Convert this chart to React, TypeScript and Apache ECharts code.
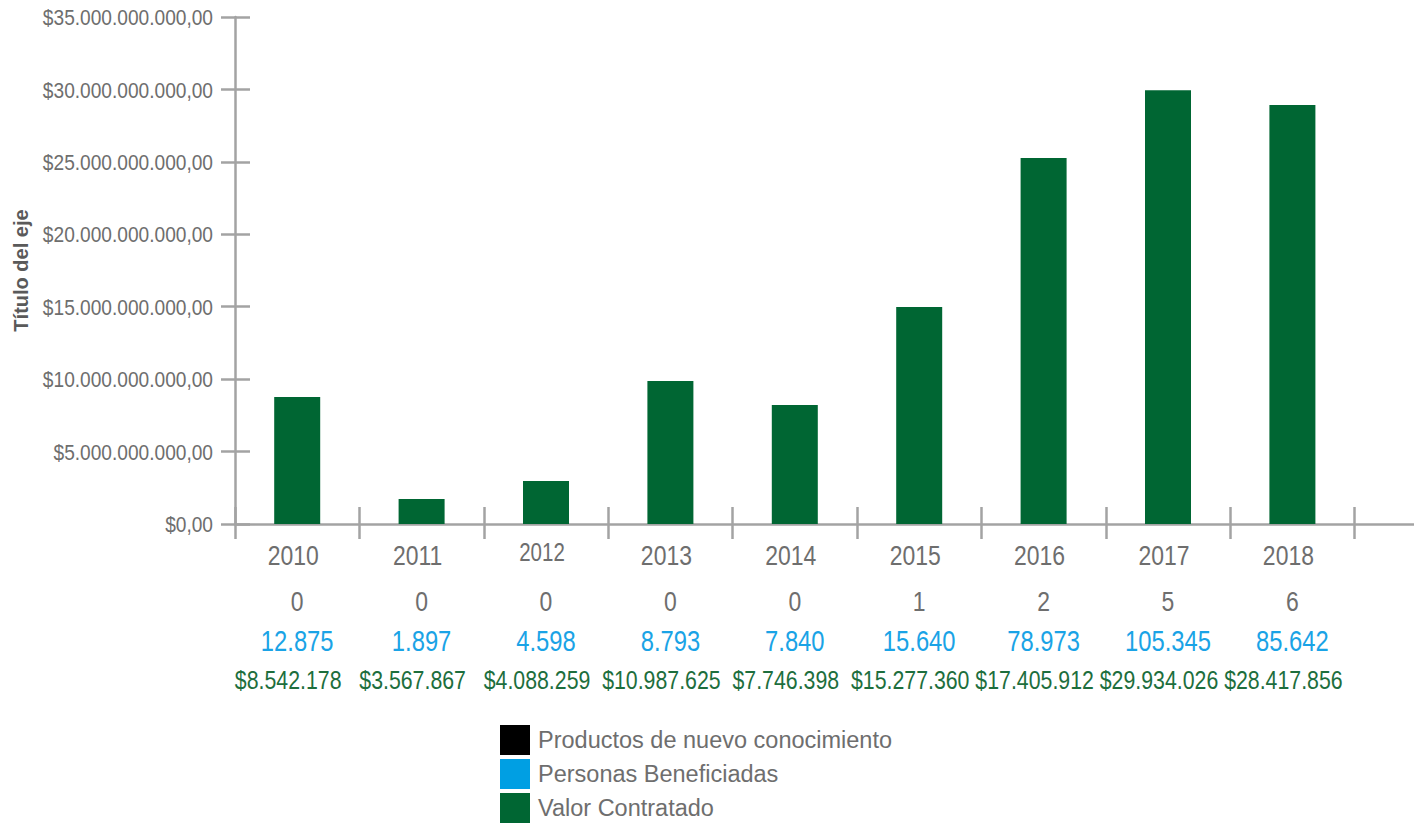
import React, { useEffect, useRef } from "react";
import * as echarts from "echarts";

const years = ["2010", "2011", "2012", "2013", "2014", "2015", "2016", "2017", "2018"];
const barValues = [8.77e9, 1.73e9, 2.97e9, 9.87e9, 8.21e9, 14.98e9, 25.26e9, 29.95e9, 28.92e9];
const productos = [0, 0, 0, 0, 0, 1, 2, 5, 6];
const personas = [12875, 1897, 4598, 8793, 7840, 15640, 78973, 105345, 85642];
const personasLabels = ["12.875", "1.897", "4.598", "8.793", "7.840", "15.640", "78.973", "105.345", "85.642"];
const valorLabels = ["$8.542.178", "$3.567.867", "$4.088.259", "$10.987.625", "$7.746.398", "$15.277.360", "$17.405.912", "$29.934.026", "$28.417.856"];
const yTicks = [0, 5e9, 10e9, 15e9, 20e9, 25e9, 30e9, 35e9];
const seriesNames = ["Productos de nuevo conocimiento", "Personas Beneficiadas", "Valor Contratado"];

const FONT = "'Liberation Sans', Arial, sans-serif";
const GRAY = "#6e6e6e";
const AXIS = "#a3a3a3";
const GREEN = "#006633";
const BLUE = "#009fe3";
const BLUE_TEXT = "#1aa3e6";
const GREEN_TEXT = "#1d6e3d";
const SQUEEZE = 0.82;

function fmtMoney(v: number): string {
  const s = Math.round(v).toString().replace(/\B(?=(\d{3})+(?!\d))/g, ".");
  return "$" + s + ",00";
}

function txt(text: string, x: number, y: number, size: number, color: string, align: string, sx: number) {
  return {
    type: "text",
    x,
    y,
    scaleX: sx,
    silent: true,
    style: {
      text,
      x: 0,
      y: 0,
      fill: color,
      fontSize: size,
      fontFamily: FONT,
      align,
      verticalAlign: "middle",
      textAlign: align,
      textVerticalAlign: "middle",
    },
  };
}

export default function App() {
  const ref = useRef<HTMLDivElement>(null);
  useEffect(() => {
    if (!ref.current) return;
    const chart = echarts.init(ref.current, null, { renderer: "svg" });
    const cats = [...years, ""];
    chart.setOption({
      animation: false,
      textStyle: { fontFamily: FONT },
      grid: {
        left: 235,
        top: 17,
        bottom: 823 - 524,
        right: -65,
        containLabel: false,
        outerBoundsMode: "none",
      },
      legend: {
        data: seriesNames,
        orient: "vertical",
        left: 500,
        top: 725,
        itemWidth: 30,
        itemHeight: 30,
        itemGap: 4,
        icon: "rect",
        padding: 0,
        textStyle: { fontFamily: FONT, fontSize: 23.5, color: GRAY, lineHeight: 30, padding: [0, 0, 0, 3] },
      },
      xAxis: [
        {
          type: "category",
          data: cats,
          position: "bottom",
          boundaryGap: true,
          axisLine: { show: true, lineStyle: { color: AXIS, width: 2.5 } },
          axisTick: { show: true, inside: false, length: 15, lineStyle: { color: AXIS, width: 2.5 } },
          axisLabel: { show: false },
          splitLine: { show: false },
        },
        {
          type: "category",
          data: cats,
          position: "bottom",
          boundaryGap: true,
          axisLine: { show: false },
          axisTick: { show: true, inside: true, length: 17, lineStyle: { color: AXIS, width: 2.5 } },
          axisLabel: { show: false },
          splitLine: { show: false },
        },
      ],
      yAxis: [
        {
          type: "value",
          min: 0,
          max: 35e9,
          interval: 5e9,
          position: "left",
          name: "Título del eje",
          nameLocation: "middle",
          nameGap: 204,
          nameRotate: 90,
          nameTextStyle: { fontFamily: FONT, fontSize: 20, fontWeight: "bold", color: "#5a5a5a" },
          axisLine: { show: true, lineStyle: { color: AXIS, width: 2.5 } },
          axisTick: { show: true, inside: false, length: 14, lineStyle: { color: AXIS, width: 2.5 } },
          axisLabel: { show: false },
          splitLine: { show: false },
        },
        {
          type: "value",
          min: 0,
          max: 35e9,
          interval: 5e9,
          position: "left",
          offset: 0,
          axisLine: { show: false },
          axisTick: { show: true, inside: true, length: 15, lineStyle: { color: AXIS, width: 2.5 } },
          axisLabel: { show: false },
          splitLine: { show: false },
        },
      ],
      series: [
        {
          name: seriesNames[0],
          type: "bar",
          data: productos,
          barWidth: 46,
          barGap: "-100%",
          itemStyle: { color: "#000000" },
        },
        {
          name: seriesNames[1],
          type: "bar",
          data: personas,
          barWidth: 46,
          barGap: "-100%",
          itemStyle: { color: BLUE },
        },
        {
          name: seriesNames[2],
          type: "bar",
          data: barValues,
          barWidth: 46,
          barGap: "-100%",
          itemStyle: { color: GREEN },
        },
        {
          name: "table",
          type: "custom",
          silent: true,
          clip: false,
          data: years.map((_, i) => [i, 0]),
          encode: { x: 0, y: 1 },
          renderItem: (params: any, api: any) => {
            const i = api.value(0);
            const p = api.coord([i, 0]);
            const cx = p[0];
            const z = p[1];
            const isSmall = years[i] === "2012";
            return {
              type: "group",
              children: [
                txt(years[i], cx - 4, z + (isSmall ? 28 : 31), isSmall ? 25 : 28, GRAY, "center", SQUEEZE),
                txt(String(productos[i]), cx, z + 77, 28, GRAY, "center", SQUEEZE),
                txt(personasLabels[i], cx, z + 117, 29, BLUE_TEXT, "center", SQUEEZE),
                txt(valorLabels[i], cx - 9, z + 156, 26, GREEN_TEXT, "center", SQUEEZE),
              ],
            };
          },
        },
        {
          name: "ylabels",
          type: "custom",
          silent: true,
          clip: false,
          data: yTicks.map((v) => [0, v]),
          encode: { x: 0, y: 1 },
          renderItem: (params: any, api: any) => {
            const p = api.coord([api.value(0), api.value(1)]);
            const band = api.size([1, 0])[0];
            const left = p[0] - band / 2;
            return txt(fmtMoney(api.value(1)), left - 22, p[1], 22.5, GRAY, "right", 0.85);
          },
        },
      ],
    });
    return () => chart.dispose();
  }, []);
  return (
    <div
      ref={ref}
      style={{ position: "fixed", left: 0, top: 0, width: 1414, height: 823, background: "#ffffff" }}
    />
  );
}
